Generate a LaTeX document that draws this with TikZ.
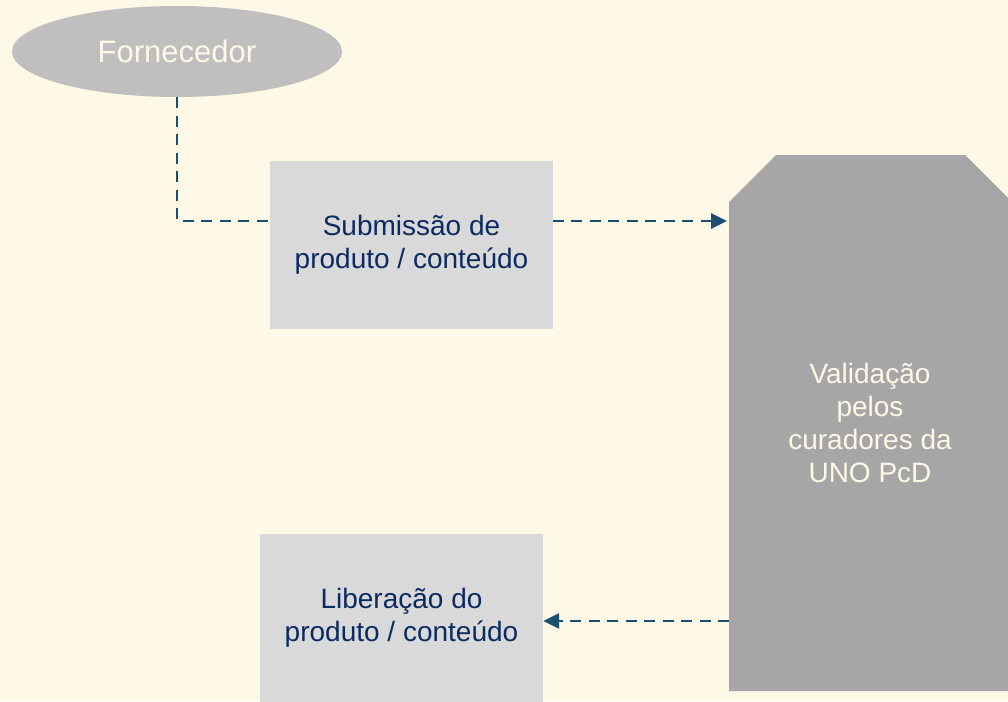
\documentclass[tikz,border=0pt]{standalone}
\usepackage{fontspec}
\setmainfont{Liberation Sans}
\usetikzlibrary{shapes.geometric,arrows.meta}
\definecolor{bg}{HTML}{FEF8E6}
\definecolor{ellfill}{HTML}{BFBFBF}
\definecolor{boxfill}{HTML}{D9D9D9}
\definecolor{bigfill}{HTML}{A6A6A6}
\definecolor{navy}{HTML}{0C2A62}
\definecolor{cream}{HTML}{FEF8E6}
\definecolor{conn}{HTML}{1B4F72}
\tikzset{
  ellnode/.style={ellipse, fill=ellfill, minimum width=330pt, minimum height=91pt, inner sep=0pt, text=cream, font=\fontsize{31}{36}\selectfont},
  stepbox/.style={rectangle, fill=boxfill, minimum width=283pt, minimum height=168pt, inner sep=0pt, align=center, text=navy, font=\fontsize{28}{33}\selectfont},
  bigtext/.style={align=center, text=cream, font=\fontsize{28}{33}\selectfont, inner sep=0pt},
  connector/.style={draw=conn, line width=2.7pt, dash pattern=on 11pt off 7.5pt, -{Triangle[length=16pt,width=15pt]}}
}
\begin{document}
\begin{tikzpicture}[x=1pt,y=-1pt]
\fill[bg] (0,0) rectangle (1008,701);
\useasboundingbox (0,0) rectangle (1008,701);
\node[ellnode] (forn) at (177,51.5) {Fornecedor};
\fill[bigfill] (729,202) -- (776,155) -- (965,155) -- (1012,202) -- (1012,691) -- (729,691) -- cycle;
\node[bigtext] (big) at (870,423) {Validação\\pelos\\curadores da\\UNO PcD};
\coordinate (bigin) at (727,221);
\coordinate (bigout) at (729,621);
\draw[connector] (forn.south) |- (bigin);
\node[stepbox] (sub) at (411.5,245) {Submissão de\\produto / conteúdo};
\node[stepbox] (lib) at (401.5,618) {Liberação do\\produto / conteúdo};
\coordinate (libin) at (lib.east |- bigout);
\draw[connector] (bigout) -- (libin);
\end{tikzpicture}
\end{document}
